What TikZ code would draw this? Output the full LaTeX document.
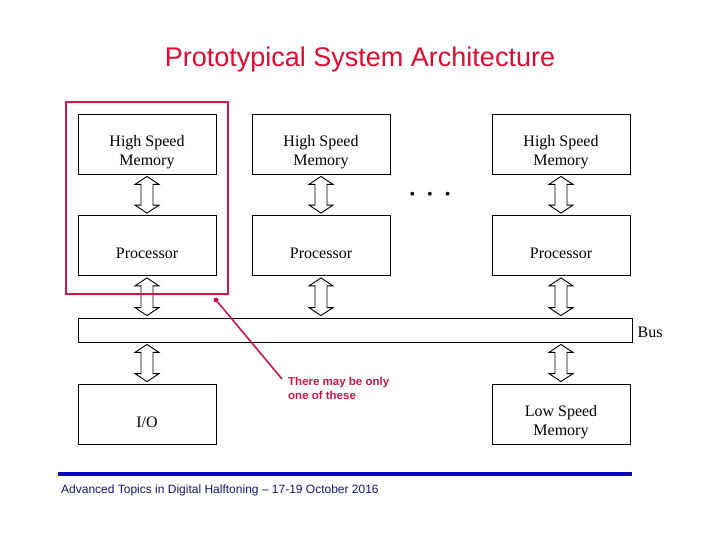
\documentclass[tikz,border=0pt]{standalone}
\usepackage{fontspec}
\setmainfont{Liberation Serif}
\setsansfont{Liberation Sans}
\usetikzlibrary{calc}
\usetikzlibrary{positioning}

\definecolor{titlered}{RGB}{222,12,50}
\definecolor{notered}{RGB}{200,25,70}
\definecolor{footblue}{RGB}{10,10,180}
\definecolor{footnavy}{RGB}{20,20,110}

\tikzset{
  unit/.style={draw,line width=0.8pt,minimum width=138pt,minimum height=60pt,inner sep=0pt,
    label={[txt,align=center,yshift=-8pt]center:#1}},
  dblarrow/.style={draw,line width=0.9pt,fill=white},
  txt/.style={inner sep=0pt,font=\fontsize{16}{19}\selectfont}
}

% vertical double arrow from #1 (upper end) to #2 (lower end)
\newcommand{\updown}[2]{%
  \draw[dblarrow] let \p1=(#1), \p2=(#2) in
    (\x1,\y1-2pt) -- (\x1+12pt,\y1-10pt) -- (\x1+6pt,\y1-10pt) -- (\x1+6pt,\y2+10pt)
    -- (\x1+12pt,\y2+10pt) -- (\x1,\y2+2pt) -- (\x1-12pt,\y2+10pt) -- (\x1-6pt,\y2+10pt)
    -- (\x1-6pt,\y1-10pt) -- (\x1-12pt,\y1-10pt) -- cycle;}

\begin{document}
\begin{tikzpicture}[x=1pt,y=-1pt]
\useasboundingbox (0,0) rectangle (720,540);

\node[text=titlered,font=\sffamily\fontsize{27}{30}\selectfont] (title) at (360,60) {Prototypical System Architecture};

% the units
\node[unit={High Speed\\Memory}] (hsm1) at (147,144) {};
\node[unit={High Speed\\Memory}] (hsm2) at (321,144) {};
\node[unit={High Speed\\Memory}] (hsm3) at (561,144) {};
\node[unit=Processor] (proc1) at (147,245.5) {};
\node[unit=Processor] (proc2) at (321,245.5) {};
\node[unit=Processor] (proc3) at (561,245.5) {};
\node[txt] (dots) at (430,196) {\textbullet\hspace{12pt}\textbullet\hspace{12pt}\textbullet};

\node[draw,line width=0.8pt,minimum width=554pt,minimum height=24pt,inner sep=0pt] (bus) at (355,330) {};
\node[txt,right=5pt of bus.east,yshift=-2pt] (buslbl) {Bus};

\node[unit=I/O] (io) at (147,414) {};
\node[unit={Low Speed\\Memory}] (lsm) at (561,414) {};

% arrows
\updown{hsm1.south}{proc1.north}
\updown{hsm2.south}{proc2.north}
\updown{hsm3.south}{proc3.north}
\updown{proc1.south}{proc1.south |- bus.north}
\updown{proc2.south}{proc2.south |- bus.north}
\updown{proc3.south}{proc3.south |- bus.north}
\updown{io.north |- bus.south}{io.north}
\updown{lsm.north |- bus.south}{lsm.north}

% only one of these
\draw[notered,line width=2.5pt] (66,102) rectangle (228,294);
\node[circle,fill=notered,inner sep=0pt,minimum size=5pt] (pin) at (216,300) {};
\node[anchor=north west,inner sep=0pt,align=left,text=notered,
  font=\sffamily\bfseries\fontsize{11.5}{14}\selectfont] (note) at (288,377) {There may be only\\one of these};
\draw[notered,line width=1.6pt] (pin) -- ([xshift=-6pt,yshift=-2pt]note.north west);

% footer
\draw[footblue,line width=3.5pt] (58,474) -- (632,474);
\node[anchor=west,inner sep=0pt,text=footnavy,font=\sffamily\fontsize{12}{14}\selectfont] (foot) at (61,490) {Advanced Topics in Digital Halftoning -- 17-19 October 2016};
\end{tikzpicture}
\end{document}
